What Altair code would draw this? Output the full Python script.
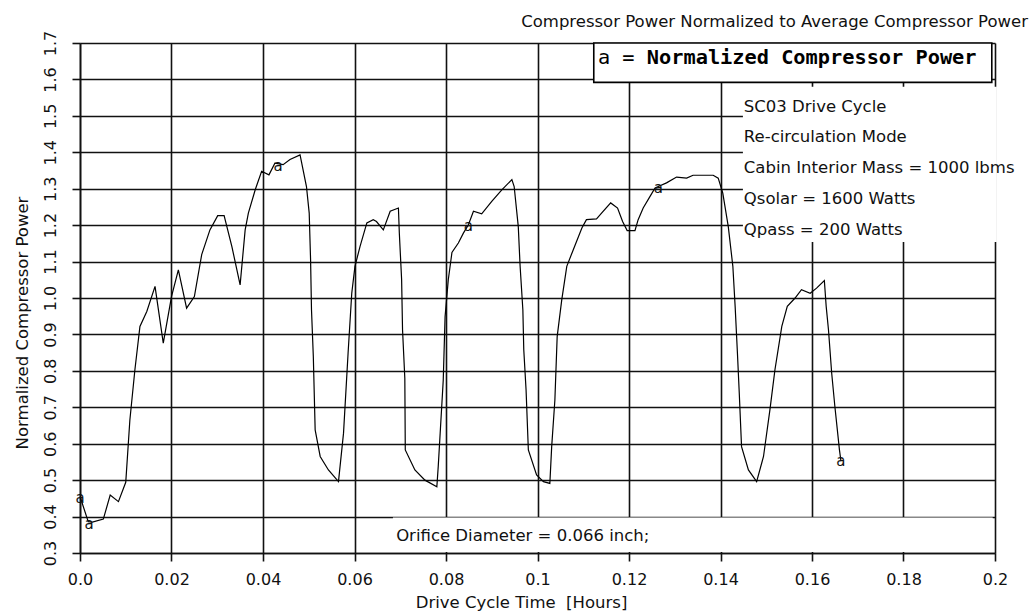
import altair as alt
import pandas as pd

# ---- data ----
TIME_H = [
    0.0000, 0.0018, 0.0027, 0.0051, 0.0066, 0.0084, 0.0100, 0.0109, 0.0120, 0.0131,
    0.0146, 0.0164, 0.0182, 0.0200, 0.0215, 0.0233, 0.0250, 0.0266, 0.0284, 0.0301,
    0.0315, 0.0332, 0.0350, 0.0361, 0.0368, 0.0383, 0.0397, 0.0413, 0.0426, 0.0444,
    0.0459, 0.0481, 0.0495, 0.0501, 0.0504, 0.0506, 0.0510, 0.0514, 0.0525, 0.0543,
    0.0565, 0.0576, 0.0586, 0.0594, 0.0601, 0.0612, 0.0627, 0.0641, 0.0648, 0.0663,
    0.0678, 0.0696, 0.0698, 0.0703, 0.0705, 0.0710, 0.0711, 0.0732, 0.0754, 0.0780,
    0.0783, 0.0794, 0.0798, 0.0805, 0.0813, 0.0827, 0.0838, 0.0849, 0.0860, 0.0878,
    0.0900, 0.0922, 0.0944, 0.0949, 0.0958, 0.0962, 0.0968, 0.0970, 0.0975, 0.0980,
    0.0998, 0.1013, 0.1027, 0.1031, 0.1038, 0.1043, 0.1053, 0.1064, 0.1078, 0.1097,
    0.1107, 0.1129, 0.1140, 0.1160, 0.1175, 0.1186, 0.1196, 0.1213, 0.1220, 0.1231,
    0.1246, 0.1257, 0.1264, 0.1282, 0.1304, 0.1326, 0.1340, 0.1384, 0.1395, 0.1405,
    0.1417, 0.1427, 0.1432, 0.1437, 0.1441, 0.1446, 0.1461, 0.1479, 0.1494, 0.1508,
    0.1519, 0.1534, 0.1546, 0.1563, 0.1577, 0.1596, 0.1610, 0.1627, 0.1631, 0.1636,
    0.1643, 0.1650, 0.1660, 0.1663,
]
POWER = [
    0.455, 0.386, 0.385, 0.393, 0.459, 0.441, 0.494, 0.665, 0.803, 0.922,
    0.963, 1.032, 0.876, 1.004, 1.077, 0.972, 1.004, 1.119, 1.187, 1.226,
    1.226, 1.141, 1.036, 1.187, 1.233, 1.297, 1.348, 1.338, 1.370, 1.366,
    1.380, 1.393, 1.306, 1.233, 1.105, 0.968, 0.839, 0.638, 0.565, 0.528,
    0.496, 0.629, 0.849, 1.013, 1.087, 1.141, 1.206, 1.215, 1.210, 1.187,
    1.238, 1.247, 1.178, 1.050, 0.913, 0.780, 0.583, 0.528, 0.500, 0.482,
    0.537, 0.775, 0.949, 1.050, 1.125, 1.151, 1.178, 1.201, 1.238, 1.231,
    1.265, 1.297, 1.325, 1.306, 1.196, 1.087, 0.968, 0.858, 0.748, 0.583,
    0.514, 0.496, 0.491, 0.592, 0.720, 0.894, 0.995, 1.087, 1.132, 1.192,
    1.215, 1.217, 1.233, 1.261, 1.247, 1.210, 1.185, 1.185, 1.215, 1.247,
    1.279, 1.302, 1.306, 1.316, 1.332, 1.329, 1.337, 1.337, 1.329, 1.288,
    1.196, 1.087, 0.977, 0.849, 0.739, 0.592, 0.528, 0.496, 0.565, 0.693,
    0.803, 0.922, 0.977, 1.000, 1.023, 1.013, 1.027, 1.048, 0.977, 0.913,
    0.794, 0.702, 0.583, 0.555,
]
MARK_TIME = [0.0000, 0.0020, 0.0433, 0.0849, 0.1264, 0.1663]
MARK_POWER = [0.455, 0.383, 1.366, 1.201, 1.306, 0.555]

X_TICKS = [0.0, 0.02, 0.04, 0.06, 0.08, 0.1, 0.12, 0.14, 0.16, 0.18, 0.2]
X_TICK_LABELS = ["0.0", "0.02", "0.04", "0.06", "0.08", "0.1", "0.12", "0.14", "0.16", "0.18", "0.2"]
Y_TICKS = [0.3, 0.4, 0.5, 0.6, 0.7, 0.8, 0.9, 1.0, 1.1, 1.2, 1.3, 1.4, 1.5, 1.6, 1.7]
Y_TICK_LABELS = ["0.3", "0.4", "0.5", "0.6", "0.7", "0.8", "0.9", "1.0", "1.1", "1.2",
                 "1.3", "1.4", "1.5", "1.6", "1.7"]

TITLE = "Compressor Power Normalized to Average Compressor Power"
X_TITLE = "Drive Cycle Time\u00a0 [Hours]"
Y_TITLE = "Normalized Compressor Power"
LEGEND_KEY = "a ="
LEGEND_LABEL = "Normalized Compressor Power"
NOTES = ["SC03 Drive Cycle", "Re-circulation Mode", "Cabin Interior Mass = 1000 lbms",
         "Qsolar = 1600 Watts", "Qpass = 200 Watts"]
ORIFICE_NOTE = "Orifice Diameter = 0.066 inch;"

# ---- annotation placement (data coordinates) ----
TITLE_X, TITLE_Y = 0.2072, 1.745
NOTE_X = 0.1451
NOTE_Y = [1.5115, 1.429, 1.344, 1.259, 1.1736]
ORIFICE_X, ORIFICE_Y = 0.0691, 0.333
LEGEND_BOX = (0.1123, 0.1993, 1.5918, 1.7)
LEGEND_KEY_X, LEGEND_LABEL_X, LEGEND_Y = 0.1132, 0.1239, 1.643
WHITE_BOXES = [(0.1449, 0.2004, 1.154, 1.580), (0.0684, 0.1995, 0.3025, 0.3975)]

FONT = "DejaVu Sans"
FS = 16.5
INK = "#111111"


def expr_for(ticks, labels):
    e = "''"
    for v, lab in reversed(list(zip(ticks, labels))):
        e = f"abs(datum.value - {v}) < 1e-6 ? '{lab}' : ({e})"
    return e


xs = alt.Scale(domain=[0, 0.2], nice=False, zero=False)
ys = alt.Scale(domain=[0.3, 1.7], nice=False, zero=False)

xa = alt.Axis(values=X_TICKS, labelExpr=expr_for(X_TICKS, X_TICK_LABELS), title=X_TITLE,
              labelFlush=False, labelOverlap=False, labelPadding=10, labelBaseline="top",
              titleX=441, titleY=54, titleAlign="center", titleBaseline="alphabetic",
              titleAnchor="start")
ya = alt.Axis(values=Y_TICKS, labelExpr=expr_for(Y_TICKS, Y_TICK_LABELS), title=Y_TITLE,
              labelFlush=False, labelOverlap=False, labelAngle=270, labelAlign="center",
              labelBaseline="alphabetic", labelPadding=17,
              titleAngle=270, titleX=-53, titleY=279.5, titleAlign="center",
              titleBaseline="alphabetic", titleAnchor="start")


def X(f):
    return alt.X(f, type="quantitative", scale=xs, axis=xa)


def Y(f):
    return alt.Y(f, type="quantitative", scale=ys, axis=ya)


def text_layer(df, **kw):
    return alt.Chart(df).mark_text(**kw).encode(x=X("t"), y=Y("p"), text="label:N")


curve_df = pd.DataFrame({"t": TIME_H, "p": POWER, "i": range(len(TIME_H))})
mark_df = pd.DataFrame({"t": MARK_TIME, "p": MARK_POWER})
white_df = pd.DataFrame([{"t": a, "t2": b, "p": c, "p2": d} for a, b, c, d in WHITE_BOXES])
box_df = pd.DataFrame([{"t": LEGEND_BOX[0], "t2": LEGEND_BOX[1], "p": LEGEND_BOX[2], "p2": LEGEND_BOX[3]}])
notes_df = pd.DataFrame({"t": [NOTE_X] * len(NOTES), "p": NOTE_Y, "label": NOTES})
orifice_df = pd.DataFrame({"t": [ORIFICE_X], "p": [ORIFICE_Y], "label": [ORIFICE_NOTE]})
key_df = pd.DataFrame({"t": [LEGEND_KEY_X], "p": [LEGEND_Y], "label": [LEGEND_KEY]})
lab_df = pd.DataFrame({"t": [LEGEND_LABEL_X], "p": [LEGEND_Y], "label": [LEGEND_LABEL]})
title_df = pd.DataFrame({"t": [TITLE_X], "p": [TITLE_Y], "label": [TITLE]})

white = alt.Chart(white_df).mark_rect(fill="white", strokeWidth=0).encode(
    x=X("t"), x2="t2", y=Y("p"), y2="p2")
box = alt.Chart(box_df).mark_rect(fill="white", stroke="black", strokeWidth=1.6).encode(
    x=X("t"), x2="t2", y=Y("p"), y2="p2")
line = alt.Chart(curve_df).mark_line(color="black", strokeWidth=1.2).encode(
    x=X("t"), y=Y("p"), order="i:Q")
marks = alt.Chart(mark_df).mark_text(text="a", font=FONT, fontSize=15, color=INK,
                                     baseline="middle", align="center", dy=1).encode(
    x=X("t"), y=Y("p"))
common = dict(font=FONT, fontSize=FS, color=INK, baseline="alphabetic")
notes = text_layer(notes_df, align="left", **common)
orifice = text_layer(orifice_df, align="left", **common)
title = text_layer(title_df, align="right", **common)
key = text_layer(key_df, font="DejaVu Sans Mono", fontSize=20.3, color="black",
                 align="left", baseline="alphabetic")
lab = text_layer(lab_df, font="DejaVu Sans Mono", fontWeight="bold", fontSize=20.3,
                 color="black", align="left", baseline="alphabetic")

chart = alt.layer(white, box, line, marks, notes, orifice, key, lab, title).properties(
    width=915, height=510,
    autosize=alt.AutoSizeParams(type="none"),
    padding={"left": 80, "top": 43, "right": 36, "bottom": 58},
    background="white",
).configure_view(strokeWidth=0).configure_axis(
    grid=True, gridColor=INK, gridWidth=1.6, gridOpacity=1,
    domainColor=INK, domainWidth=1.6, tickColor=INK, tickWidth=1.6, tickSize=8,
    labelFont=FONT, labelFontSize=16, labelColor=INK,
    titleFont=FONT, titleFontSize=FS, titleColor=INK, titleFontWeight="normal",
)

chart.save("out.html", embed_options={"renderer": "svg", "actions": False})
